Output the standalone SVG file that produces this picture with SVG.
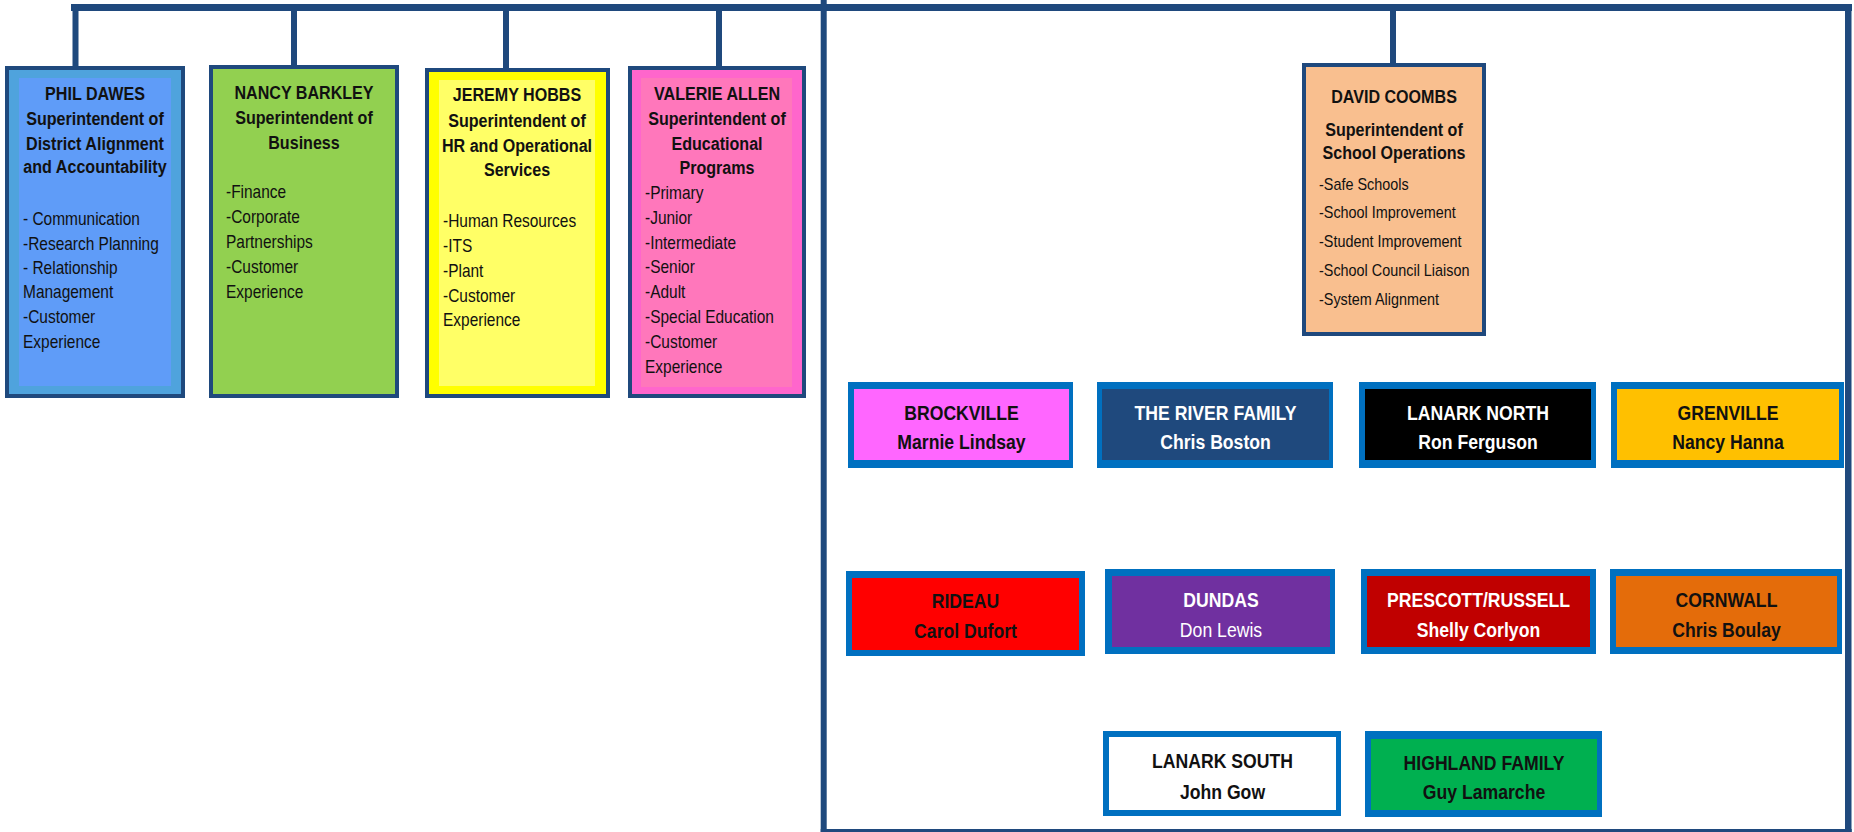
<svg xmlns="http://www.w3.org/2000/svg" width="1854" height="832" viewBox="0 0 1854 832">
<style>
text{font-family:"Liberation Sans",Arial,sans-serif;fill:#111}
.h{font-size:18.5px;font-weight:bold;text-anchor:middle}
.l{font-size:18px}
.s{font-size:16px}
.t{font-size:21px;font-weight:bold;text-anchor:middle}
.n{font-size:21px;font-weight:bold;text-anchor:middle}
.r{font-weight:normal}
.w{fill:#fff}
.box{stroke:#1f497d;stroke-width:4}
.ln{fill:#1f497d}
.ob{fill:#0070c0}
</style>
<g id="connectors">
<rect class="ln" x="71" y="4" width="1781" height="7"/>
<rect class="ln" x="72.5" y="4" width="6" height="64"/>
<rect class="ln" x="291" y="4" width="6" height="63"/>
<rect class="ln" x="503" y="4" width="6" height="66"/>
<rect class="ln" x="716" y="4" width="6" height="64"/>
<rect class="ln" x="1390" y="4" width="6" height="61"/>
<rect class="ln" x="820.7" y="0" width="6" height="832"/>
<rect class="ln" x="1845" y="4" width="6.5" height="828"/>
<rect class="ln" x="820.7" y="829" width="1031" height="3"/>
</g>
<g id="phil">
<rect class="box" x="7" y="68" width="176" height="328" fill="#4fa3dd"/>
<rect x="19" y="78" width="152" height="308" fill="#5f9cf8"/>
<g transform="translate(95 0) scale(0.87 1)">
<text class="h" x="0" y="100">PHIL DAWES</text>
<text class="h" x="0" y="125">Superintendent of</text>
<text class="h" x="0" y="150">District Alignment</text>
<text class="h" x="0" y="173">and Accountability</text>
</g>
<g transform="translate(23 0) scale(0.86 1)">
<text class="l" x="0" y="225">- Communication</text>
<text class="l" x="0" y="250">-Research Planning</text>
<text class="l" x="0" y="274">- Relationship</text>
<text class="l" x="0" y="298">Management</text>
<text class="l" x="0" y="323">-Customer</text>
<text class="l" x="0" y="348">Experience</text>
</g>
</g>
<g id="nancy">
<rect class="box" x="211" y="67" width="186" height="329" fill="#92d050"/>
<g transform="translate(304 0) scale(0.87 1)">
<text class="h" x="0" y="99">NANCY BARKLEY</text>
<text class="h" x="0" y="124">Superintendent of</text>
<text class="h" x="0" y="149">Business</text>
</g>
<g transform="translate(226 0) scale(0.86 1)">
<text class="l" x="0" y="198">-Finance</text>
<text class="l" x="0" y="223">-Corporate</text>
<text class="l" x="0" y="248">Partnerships</text>
<text class="l" x="0" y="273">-Customer</text>
<text class="l" x="0" y="298">Experience</text>
</g>
</g>
<g id="jeremy">
<rect class="box" x="427" y="70" width="181" height="326" fill="#ffff00"/>
<rect x="439" y="80" width="156" height="306" fill="#ffff66"/>
<g transform="translate(517 0) scale(0.87 1)">
<text class="h" x="0" y="101">JEREMY HOBBS</text>
<text class="h" x="0" y="127">Superintendent of</text>
<text class="h" x="0" y="152">HR and Operational</text>
<text class="h" x="0" y="176">Services</text>
</g>
<g transform="translate(443 0) scale(0.86 1)">
<text class="l" x="0" y="227">-Human Resources</text>
<text class="l" x="0" y="252">-ITS</text>
<text class="l" x="0" y="277">-Plant</text>
<text class="l" x="0" y="302">-Customer</text>
<text class="l" x="0" y="326">Experience</text>
</g>
</g>
<g id="valerie">
<rect class="box" x="630" y="68" width="174" height="328" fill="#ff66cc"/>
<rect x="641" y="78" width="151" height="309" fill="#ff77bb"/>
<g transform="translate(717 0) scale(0.87 1)">
<text class="h" x="0" y="100">VALERIE ALLEN</text>
<text class="h" x="0" y="125">Superintendent of</text>
<text class="h" x="0" y="150">Educational</text>
<text class="h" x="0" y="174">Programs</text>
</g>
<g transform="translate(645 0) scale(0.86 1)">
<text class="l" x="0" y="199">-Primary</text>
<text class="l" x="0" y="224">-Junior</text>
<text class="l" x="0" y="249">-Intermediate</text>
<text class="l" x="0" y="273">-Senior</text>
<text class="l" x="0" y="298">-Adult</text>
<text class="l" x="0" y="323">-Special Education</text>
<text class="l" x="0" y="348">-Customer</text>
<text class="l" x="0" y="373">Experience</text>
</g>
</g>
<g id="david">
<rect class="box" x="1304" y="65" width="180" height="269" fill="#f9bf8f"/>
<g transform="translate(1394 0) scale(0.87 1)">
<text class="h" x="0" y="103">DAVID COOMBS</text>
<text class="h" x="0" y="136">Superintendent of</text>
<text class="h" x="0" y="159">School Operations</text>
</g>
<g transform="translate(1319 0) scale(0.9 1)">
<text class="s" x="0" y="190">-Safe Schools</text>
<text class="s" x="0" y="218">-School Improvement</text>
<text class="s" x="0" y="247">-Student Improvement</text>
<text class="s" x="0" y="276">-School Council Liaison</text>
<text class="s" x="0" y="305">-System Alignment</text>
</g>
</g>
<g id="brockville">
<rect class="ob" x="848" y="382" width="225" height="86"/>
<rect x="854" y="389" width="215" height="71" fill="#ff66ff"/>
<g transform="translate(961.5 0) scale(0.84 1)">
<text class="t" x="0" y="420">BROCKVILLE</text>
<text class="n" x="0" y="449">Marnie Lindsay</text>
</g>
</g>
<g id="river">
<rect class="ob" x="1097" y="382" width="236" height="86"/>
<rect x="1102" y="389" width="227" height="71" fill="#1f497d"/>
<g transform="translate(1215.5 0) scale(0.84 1)">
<text class="t w" x="0" y="420">THE RIVER FAMILY</text>
<text class="n w" x="0" y="449">Chris Boston</text>
</g>
</g>
<g id="lanark-north">
<rect class="ob" x="1359" y="382" width="237" height="86"/>
<rect x="1365" y="389" width="226" height="71" fill="#000000"/>
<g transform="translate(1478 0) scale(0.84 1)">
<text class="t w" x="0" y="420">LANARK NORTH</text>
<text class="n w" x="0" y="449">Ron Ferguson</text>
</g>
</g>
<g id="grenville">
<rect class="ob" x="1611" y="382" width="233" height="86"/>
<rect x="1617" y="389" width="222" height="71" fill="#ffc000"/>
<g transform="translate(1728 0) scale(0.84 1)">
<text class="t" x="0" y="420">GRENVILLE</text>
<text class="n" x="0" y="449">Nancy Hanna</text>
</g>
</g>
<g id="rideau">
<rect class="ob" x="846" y="571" width="239" height="85"/>
<rect x="852" y="578" width="227" height="72" fill="#ff0000"/>
<g transform="translate(965.5 0) scale(0.84 1)">
<text class="t" x="0" y="608">RIDEAU</text>
<text class="n" x="0" y="638">Carol Dufort</text>
</g>
</g>
<g id="dundas">
<rect class="ob" x="1105" y="569" width="230" height="85"/>
<rect x="1112" y="576" width="218" height="71" fill="#7030a0"/>
<g transform="translate(1221 0) scale(0.84 1)">
<text class="t w" x="0" y="607">DUNDAS</text>
<text class="n w r" x="0" y="637">Don Lewis</text>
</g>
</g>
<g id="prescott-russell">
<rect class="ob" x="1361" y="569" width="235" height="85"/>
<rect x="1367" y="576" width="223" height="71" fill="#c00000"/>
<g transform="translate(1478.5 0) scale(0.84 1)">
<text class="t w" x="0" y="607">PRESCOTT/RUSSELL</text>
<text class="n w" x="0" y="637">Shelly Corlyon</text>
</g>
</g>
<g id="cornwall">
<rect class="ob" x="1610" y="569" width="232" height="85"/>
<rect x="1616" y="576" width="221" height="71" fill="#e46c0a"/>
<g transform="translate(1726.5 0) scale(0.84 1)">
<text class="t" x="0" y="607">CORNWALL</text>
<text class="n" x="0" y="637">Chris Boulay</text>
</g>
</g>
<g id="lanark-south">
<rect class="ob" x="1103" y="731" width="238" height="85"/>
<rect x="1109" y="737" width="227" height="73" fill="#ffffff"/>
<g transform="translate(1222.5 0) scale(0.84 1)">
<text class="t" x="0" y="768">LANARK SOUTH</text>
<text class="n" x="0" y="799">John Gow</text>
</g>
</g>
<g id="highland">
<rect class="ob" x="1365" y="731" width="237" height="86"/>
<rect x="1371" y="739" width="226" height="71" fill="#00b050"/>
<g transform="translate(1484 0) scale(0.84 1)">
<text class="t" x="0" y="770">HIGHLAND FAMILY</text>
<text class="n" x="0" y="799">Guy Lamarche</text>
</g>
</g>
</svg>
